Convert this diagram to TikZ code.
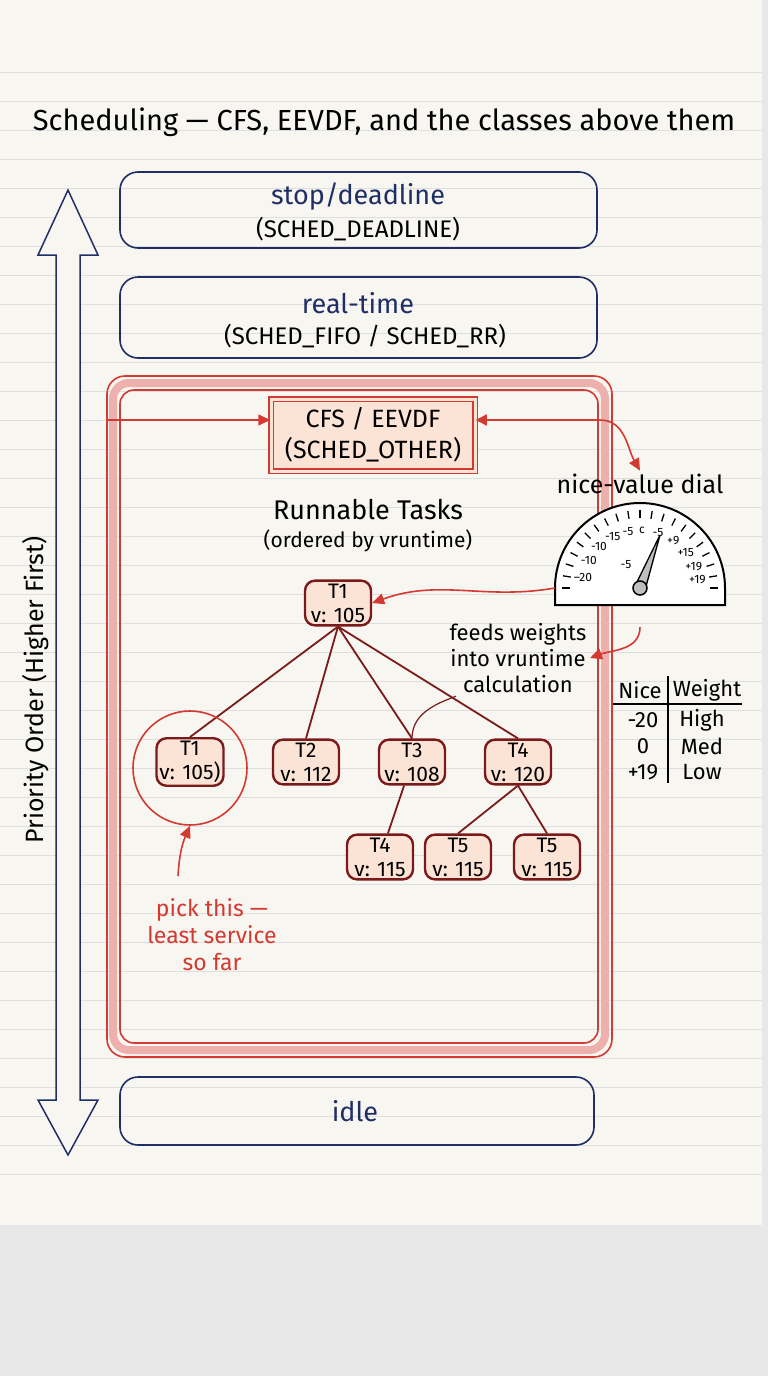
\documentclass[tikz,border=0pt]{standalone}
\usepackage{fontspec}
\setmainfont{Fira Sans}
\usetikzlibrary{arrows.meta,positioning}
\definecolor{paper}{HTML}{F8F6F1}
\definecolor{navy}{HTML}{1F2F66}
\definecolor{redink}{HTML}{D23A32}
\definecolor{darkred}{HTML}{7A1A1A}
\definecolor{peach}{HTML}{FBE3D6}
\tikzset{
  classbox/.style={draw=navy,line width=1.6pt,rounded corners=18pt},
  task/.style={draw=darkred,line width=2.4pt,rounded corners=10pt,fill=peach,align=center,
    inner sep=3pt,font=\fontsize{21}{24}\selectfont,minimum width=66pt},
  edge/.style={darkred,line width=1.8pt},
  redarrow/.style={redink,line width=1.6pt,-{Triangle[length=12pt,width=11pt]}},
  note/.style={align=center,font=\fontsize{23}{27}\selectfont}
}
\begin{document}
\begin{tikzpicture}[x=1pt,y=-1pt]
\useasboundingbox (0,0) rectangle (768,1376);
% paper and rules
\fill[gray!18] (0,0) rectangle (768,1376);
\fill[paper] (0,0) rectangle (762,1225);
\foreach \y in {72,101,...,1200}
  \draw[gray!25,line width=0.6pt] (0,\y) -- (762,\y);
% title
\node[font=\fontsize{29}{32}\selectfont] (title) at (384,122) {Scheduling — CFS, EEVDF, and the classes above them};
% priority arrow
\draw[navy,line width=1.5pt,fill=paper] (68,190) -- (98,255) -- (80,255) -- (80,1100) -- (98,1100)
  -- (68,1155) -- (38,1100) -- (56,1100) -- (56,255) -- (38,255) -- cycle;
\node[rotate=90,font=\fontsize{25}{28}\selectfont] (priolabel) at (36,690) {Priority Order (Higher First)};
% class boxes
\draw[classbox] (120,172) rectangle (597,248);
\node[navy,font=\fontsize{27}{30}\selectfont] (stop) at (358,196) {stop/deadline};
\node[font=\fontsize{24}{27}\selectfont] (stopsub) at (358,229) {(SCHED\_DEADLINE)};
\draw[classbox] (120,277) rectangle (597,358);
\node[navy,font=\fontsize{27}{30}\selectfont] (rt) at (358,303) {real-time};
\node[font=\fontsize{24}{27}\selectfont] (rtsub) at (365,336) {(SCHED\_FIFO / SCHED\_RR)};
\draw[classbox] (120,1077) rectangle (594,1145);
\node[navy,font=\fontsize{27}{30}\selectfont] (idle) at (355,1111) {idle};
% CFS frame
\draw[redink!40,line width=8pt,rounded corners=16pt] (113,383) rectangle (605,1050);
\draw[redink,line width=1.6pt,rounded corners=18pt] (107,376) rectangle (612,1057);
\draw[redink,line width=1.6pt,rounded corners=14pt] (120,390) rectangle (598,1043);
\node[draw=redink,double=peach,double distance=3pt,line width=1.5pt,fill=peach,align=center,
  font=\fontsize{25}{31}\selectfont,minimum width=204pt,minimum height=72pt] (cfs) at (373,435)
  {CFS / EEVDF\\(SCHED\_OTHER)};
\coordinate (entry) at (107,420);
\draw[redarrow] (entry) -- (cfs.west |- entry);
% dial
\node[font=\fontsize{25}{28}\selectfont] (dialtitle) at (640,484) {nice-value dial};
\coordinate (dc) at (640,588);
\draw[line width=2pt,fill=white] (555,605) -- (555,588) arc[start angle=180,end angle=360,radius=85] -- (725,605) -- cycle;
\foreach \a in {0,9,...,180}
  \draw[line width=1.3pt] ({640+78*cos(\a)},{588-78*sin(\a)}) -- ({640+70*cos(\a)},{588-70*sin(\a)});
\foreach \a/\t in {170/--20,152/-10,135/-10,118/-15,102/-5,88/c,72/-5,55/+9,38/+15,22/+19,8/+19}
  \node[font=\fontsize{12}{13}\selectfont,inner sep=0pt] at ({640+58*cos(\a)},{588-58*sin(\a)}) {\t};
\node[font=\fontsize{12}{13}\selectfont] at (626,565) {-5};
\fill[gray!50,draw=black,line width=1.3pt] (635,586) -- (660,535) -- (645,590) -- cycle;
\node[draw=black,line width=1.5pt,fill=gray!50,circle,minimum size=14pt,inner sep=0pt] (hub) at (dc) {};
\node (dial) at (640,560) [minimum width=170pt,minimum height=90pt] {};
% CFS to dial
\draw[redarrow,{Triangle[length=11pt,width=11pt]}-{Triangle[length=12pt,width=11pt]}] (cfs.east |- entry) -- (600,420) to[out=0,in=120] (dialtitle.north);
% tasks
\node[note,font=\fontsize{27}{30}\selectfont] (rtitle) at (368,510) {Runnable Tasks};
\node[note,font=\fontsize{21}{24}\selectfont] (rsub) at (368,541) {(ordered by vruntime)};
\node[task] (root) at (338,603) {T1\\v: 105};
\node[task] (a) at (190,762) {T1\\v: 105)};
\node[task] (b) at (306,762) {T2\\v: 112};
\node[task] (c) at (412,762) {T3\\v: 108};
\node[task] (d) at (518,762) {T4\\v: 120};
\node[task] (e) at (380,857) {T4\\v: 115};
\node[task] (f) at (458,857) {T5\\v: 115};
\node[task] (g) at (547,857) {T5\\v: 115};
\foreach \n in {a,b,c,d} \draw[edge] (root.south) -- (\n.north);
\draw[edge] (c) -- (e);
\draw[edge] (d.south) -- (f.north);
\draw[edge] (d.south) -- (g.north);
\node[draw=redink,line width=1.6pt,circle,minimum size=114pt] (pickring) at (190,768) {};
% notes
\node[note,text=redink] (pick) at (212,935) {pick this —\\least service\\so far};
\coordinate (pickfoot) at (178,876);
\draw[redarrow] (pickfoot) to[bend left=10] (pickring.south);
\node[note,font=\fontsize{22}{26}\selectfont] (feeds) at (518,658) {feeds weights\\into vruntime\\calculation};
\draw[redarrow] (dial.west) ++(0,28) to[out=190,in=20] (root.east);
\draw[redarrow] (dial.south) ++(0,22) to[out=-90,in=20] (feeds.east);
\draw[darkred,line width=1.2pt] (feeds.south west) ++(10,0) to[out=200,in=90] (c.north);
% table
\node[font=\fontsize{22}{24}\selectfont] (nice) at (640,690) {Nice};
\node[font=\fontsize{22}{24}\selectfont] (weight) at (707,690) {Weight};
\draw[line width=1.5pt] (613,704) -- (742,704) (668,676) -- (668,783);
\foreach \n/\w [count=\i] in {-20/High,0/Med,+19/Low}{
  \node[font=\fontsize{22}{24}\selectfont] at (643,694+26*\i) {\n};
  \node[font=\fontsize{22}{24}\selectfont] at (702,694+26*\i) {\w};
}
\end{tikzpicture}
\end{document}
